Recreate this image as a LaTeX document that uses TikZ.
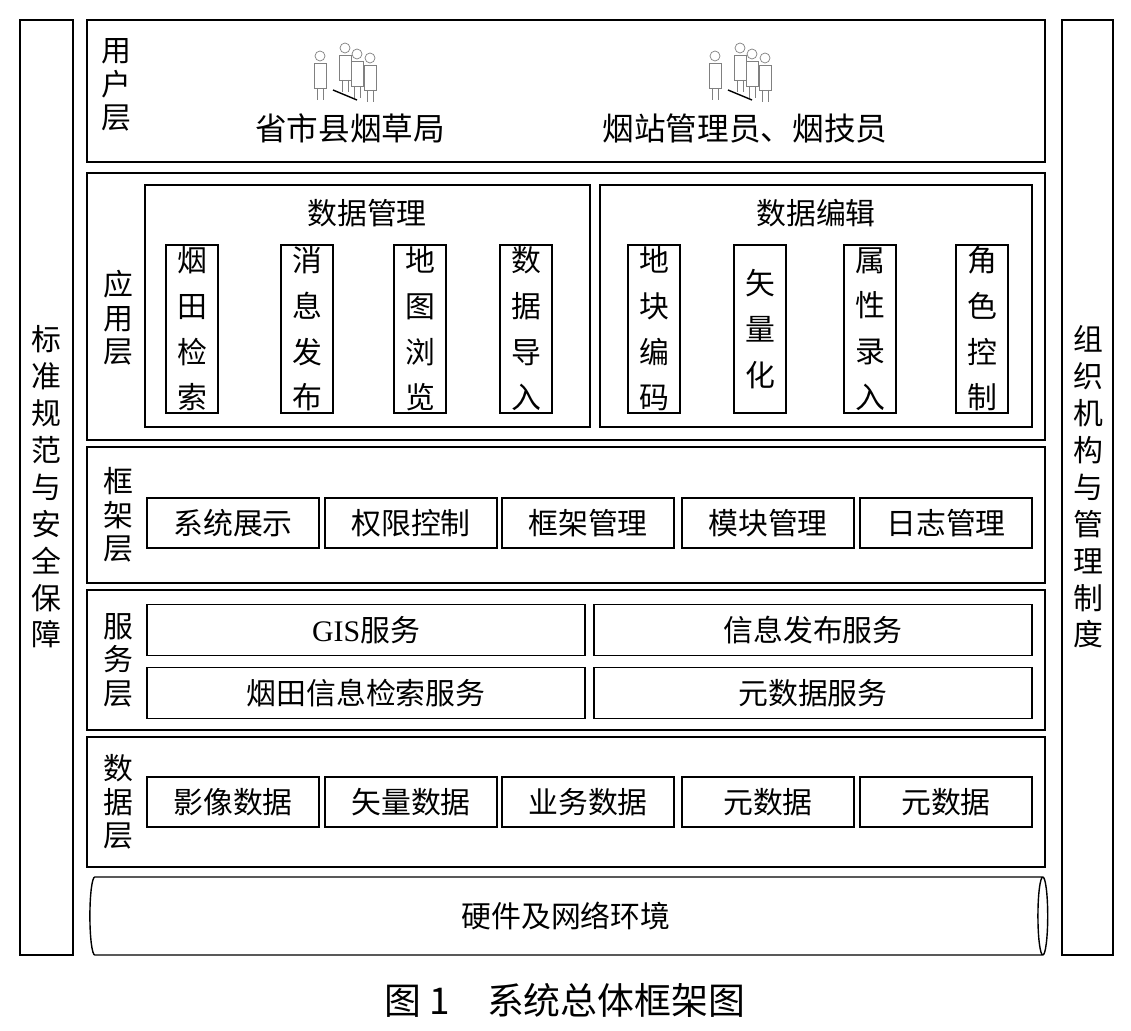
\documentclass[tikz,border=0pt]{standalone}
\usepackage{fontspec}
\setmainfont{Liberation Serif}
\newfontfamily\cjk{Noto Sans CJK SC}
\usetikzlibrary{shapes.geometric, positioning, calc}

\begin{document}
\begin{tikzpicture}[x=0.02cm, y=-0.02cm,
    every node/.style={font=\cjk\fontsize{17}{22}\selectfont, inner sep=0pt},
    vbox/.style={draw, thick, rectangle, minimum width=1.04cm, minimum height=3.36cm, align=center, font=\cjk\fontsize{17}{26}\selectfont},
    hbox/.style={draw, thick, rectangle, minimum width=3.44cm, minimum height=1cm},
    wbox/.style={draw, thick, rectangle, minimum width=8.76cm, minimum height=1.02cm},
    vlabel/.style={align=center, font=\cjk\fontsize{17}{19}\selectfont}
]
\useasboundingbox (0,0) rectangle (1131,1030);

% Side bars
\draw[thick] (20,20) rectangle (73,955);
\node[vlabel, font=\cjk\fontsize{17}{21}\selectfont] (std) at (46,487) {标\\准\\规\\范\\与\\安\\全\\保\\障};
\draw[thick] (1062,20) rectangle (1113,955);
\node[vlabel, font=\cjk\fontsize{17}{21}\selectfont] (org) at (1088,487) {组\\织\\机\\构\\与\\管\\理\\制\\度};

% User layer
\draw[thick] (87,20) rectangle (1045,162);
\node[vlabel] (userlbl) at (116,85) {用\\户\\层};
\node[font=\cjk\fontsize{18}{22}\selectfont] (prov) at (350,128) {省市县烟草局};
\node[font=\cjk\fontsize{18}{22}\selectfont] (staff) at (745,128) {烟站管理员、烟技员};
\foreach \cx in {345,740} {
  \foreach \dx/\dy in {-25/8, 0/0, 12/6, 25/10} {
    \draw[gray, fill=white] (\cx+\dx,\dy+48) circle (5);
    \draw[gray, fill=white] (\cx+\dx-6,\dy+55) rectangle (\cx+\dx+6,\dy+80);
    \draw[gray] (\cx+\dx-3,\dy+80) -- (\cx+\dx-3,\dy+92) (\cx+\dx+3,\dy+80) -- (\cx+\dx+3,\dy+92);
  }
  \draw[thick] (\cx-12,90) -- (\cx+12,100);
}

% Application layer
\draw[thick] (87,173) rectangle (1045,440);
\node[vlabel] (applbl) at (118,318) {应\\用\\层};
\draw[thick] (145,185) rectangle (590,427);
\node (mgmt) at (367,213) {数据管理};
\node[vbox] (a1) at (192,329) {烟\\田\\检\\索};
\node[vbox] (a2) at (307,329) {消\\息\\发\\布};
\node[vbox] (a3) at (420,329) {地\\图\\浏\\览};
\node[vbox] (a4) at (526,329) {数\\据\\导\\入};
\draw[thick] (600,185) rectangle (1032,427);
\node (edit) at (816,213) {数据编辑};
\node[vbox] (b1) at (654,329) {地\\块\\编\\码};
\node[vbox] (b2) at (760,329) {矢\\量\\化};
\node[vbox] (b3) at (870,329) {属\\性\\录\\入};
\node[vbox] (b4) at (982,329) {角\\色\\控\\制};

% Framework layer
\draw[thick] (87,447) rectangle (1045,583);
\node[vlabel] (frmlbl) at (118,515) {框\\架\\层};
\node[hbox] (f1) at (233,523) {系统展示};
\node[hbox] (f2) at (411,523) {权限控制};
\node[hbox] (f3) at (588,523) {框架管理};
\node[hbox] (f4) at (768,523) {模块管理};
\node[hbox] (f5) at (946,523) {日志管理};

% Service layer
\draw[thick] (87,590) rectangle (1045,730);
\node[vlabel] (svclbl) at (118,660) {服\\务\\层};
\node[wbox] (s1) at (366,630) {\rmfamily GIS\cjk 服务};
\node[wbox] (s2) at (813,630) {信息发布服务};
\node[wbox] (s3) at (366,693) {烟田信息检索服务};
\node[wbox] (s4) at (813,693) {元数据服务};

% Data layer
\draw[thick] (87,737) rectangle (1045,867);
\node[vlabel] (datlbl) at (118,802) {数\\据\\层};
\node[hbox] (d1) at (233,802) {影像数据};
\node[hbox] (d2) at (411,802) {矢量数据};
\node[hbox] (d3) at (588,802) {业务数据};
\node[hbox] (d4) at (768,802) {元数据};
\node[hbox] (d5) at (946,802) {元数据};

% Hardware
\node[draw, thick, cylinder, shape aspect=0.35, minimum width=1.56cm, minimum height=19.16cm] (hw) at (566,916) {硬件及网络环境};

% Caption
\node[font=\cjk\fontsize{21}{24}\selectfont] (cap) at (565,1000) {图 1\quad 系统总体框架图};
\end{tikzpicture}
\end{document}
